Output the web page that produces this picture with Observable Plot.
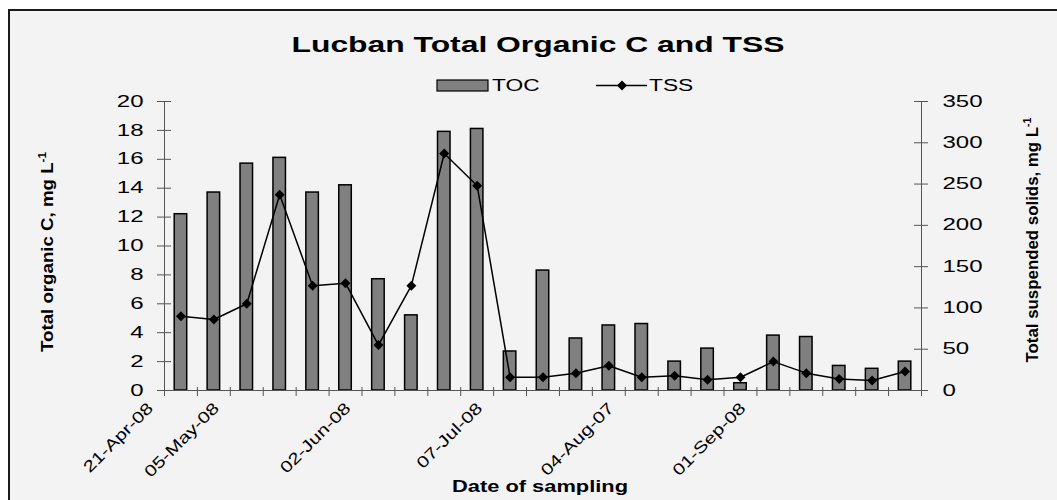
<!DOCTYPE html>
<html><head><meta charset="utf-8">
<script src="https://cdn.jsdelivr.net/npm/d3@7"></script>
<script src="https://cdn.jsdelivr.net/npm/@observablehq/plot@0.6"></script>
<style>
body{margin:0;overflow:hidden;background:#fff;}
#wrap{position:relative;width:1057px;height:500px;overflow:hidden;background:#fff;}
#panel{position:absolute;left:8px;top:9px;width:1100px;height:600px;border-left:2px solid #1a1a1a;border-top:2px solid #1a1a1a;background:#f3f3f3;}
#chart{position:absolute;left:0;top:0;}
</style></head><body>
<div id="wrap"><div id="panel"></div><div id="chart"></div></div>
<script>
// ---- data ----
const sampleNo = d3.range(1, 24);
const tocValues = [12.2,13.7,15.7,16.1,13.7,14.2,7.7,5.2,17.9,18.1,2.7,8.3,3.6,4.5,4.6,2.0,2.9,0.5,3.8,3.7,1.7,1.5,2.0];
const tssValues = [90,86,105,237,127,130,55,127,287,248,16,16,21,30,16,18,13,16,35,21,14,12,23];
const dateLabels = ["21-Apr-08","05-May-08","02-Jun-08","07-Jul-08","04-Aug-07","01-Sep-08"];
const dateLabelSample = [1,3,7,11,15,19];
const tocTicks = d3.range(0, 21, 2);
const tssTicks = d3.range(0, 351, 50);
const tocMax = 20, tssMax = 350;
const k = tssMax / tocMax;

const rows = sampleNo.map((s, i) => ({i, sample: s, toc: tocValues[i], tss: tssValues[i]}));
const nCat = sampleNo.length;
const FONT = "Liberation Sans, Arial, sans-serif";
const axisColor = "#555";

const plot = Plot.plot({
  width: 1057, height: 500,
  marginLeft: 164, marginRight: 136, marginTop: 101, marginBottom: 110,
  style: {background: "transparent", fontFamily: FONT, overflow: "visible"},
  x: {domain: [0, nCat], axis: null},
  y: {domain: [0, tocMax], axis: null},
  marks: [
    Plot.rect(rows, {x1: d => d.i + 0.31, x2: d => d.i + 0.69, y1: d => 0, y2: d => d.toc, fill: "#808080", stroke: "#000", strokeWidth: 1.5}),
    Plot.ruleX([0, nCat], {y1: d => 0, y2: d => tocMax, stroke: axisColor, strokeWidth: 1}),
    Plot.ruleY([0], {x1: d => 0, x2: d => nCat, stroke: axisColor, strokeWidth: 1.2}),
    // tick marks crossing the axes
    Plot.ruleY(tocTicks, {y: d => d, x1: d => 0, x2: d => 0, insetLeft: -7, insetRight: -7, stroke: axisColor}),
    Plot.ruleY(tssTicks, {y: d => d / k, x1: d => nCat, x2: d => nCat, insetLeft: -7, insetRight: -7, stroke: axisColor}),
    Plot.ruleX(d3.range(0, nCat + 1), {x: d => d, y1: d => 0, y2: d => 0, insetTop: -3, insetBottom: -6, stroke: axisColor}),
    Plot.text(tocTicks, {x: d => 0, y: d => d, text: d => String(d), textAnchor: "end", dx: -21, fontSize: 16, fill: "#000", ariaLabel: d => "tick-left"}),
    Plot.text(tssTicks, {x: d => nCat, y: d => d / k, text: d => String(d), textAnchor: "start", dx: 21, fontSize: 16, fill: "#000", ariaLabel: d => "tick-right"}),
    Plot.text(dateLabelSample, {x: d => d - 1, y: d => 0, text: (d, i) => dateLabels[i], rotate: -45, textAnchor: "end", dx: -14, dy: 15, fontSize: 16, fill: "#000", ariaLabel: d => "tick-date"}),
    Plot.line(rows, {x: d => d.i + 0.5, y: d => d.tss / k, stroke: "#000", strokeWidth: 1.5}),
    Plot.dot(rows, {x: d => d.i + 0.5, y: d => d.tss / k, symbol: "diamond2", r: 4.5, fill: "#000", stroke: "none"})
  ]
});
document.getElementById("chart").appendChild(plot);

const svg = d3.select(plot);
function stretch(sel, factor) {
  sel.each(function() {
    const w = this.getComputedTextLength();
    if (w > 0) {
      this.setAttribute("textLength", w * factor);
      this.setAttribute("lengthAdjust", "spacingAndGlyphs");
    }
  });
}
stretch(svg.selectAll('text[aria-label="tick-left"]'), 1.5);
stretch(svg.selectAll('text[aria-label="tick-right"]'), 1.5);
stretch(svg.selectAll('text[aria-label="tick-date"]'), 1.28);

// title
const deco = svg.append("g").attr("font-family", FONT).attr("fill", "#000").attr("text-anchor", "start");
deco.append("text").attr("x", 538).attr("y", 52).attr("text-anchor", "middle")
  .attr("font-size", 22).attr("font-weight", "bold")
  .attr("textLength", 493).attr("lengthAdjust", "spacingAndGlyphs")
  .text("Lucban Total Organic C and TSS");

// legend
deco.append("rect").attr("x", 437).attr("y", 80).attr("width", 51).attr("height", 11)
  .attr("fill", "#808080").attr("stroke", "#000").attr("stroke-width", 1.2);
const tocLeg = deco.append("text").attr("x", 492).attr("y", 85.5).attr("dy", "0.35em").attr("font-size", 16).text("TOC");
deco.append("line").attr("x1", 596).attr("x2", 647).attr("y1", 85.5).attr("y2", 85.5).attr("stroke", "#000").attr("stroke-width", 1.5);
deco.append("path").attr("d", d3.symbol(d3.symbolDiamond2, 64)()).attr("transform", "translate(622,85.5)").attr("fill", "#000");
const tssLeg = deco.append("text").attr("x", 649).attr("y", 85.5).attr("dy", "0.35em").attr("font-size", 16).text("TSS");
stretch(tocLeg, 1.42); stretch(tssLeg, 1.42);

// x axis title
deco.append("text").attr("x", 540).attr("y", 492).attr("text-anchor", "middle")
  .attr("font-size", 16).attr("font-weight", "bold")
  .attr("textLength", 176).attr("lengthAdjust", "spacingAndGlyphs")
  .text("Date of sampling");

// y axis titles
function vTitle(x, y, len, main) {
  const t = deco.append("text").attr("transform", `translate(${x},${y}) rotate(-90)`)
    .attr("text-anchor", "middle").attr("dy", "0.35em")
    .attr("font-size", 16).attr("font-weight", "bold")
    .attr("textLength", len).attr("lengthAdjust", "spacingAndGlyphs");
  t.append("tspan").text(main);
  t.append("tspan").attr("font-size", 10).attr("dy", "-0.7em").text("-1");
}
vTitle(47, 252, 200, "Total organic C, mg L");
vTitle(1032, 240, 245, "Total suspended solids, mg L");
</script>
</body></html>
